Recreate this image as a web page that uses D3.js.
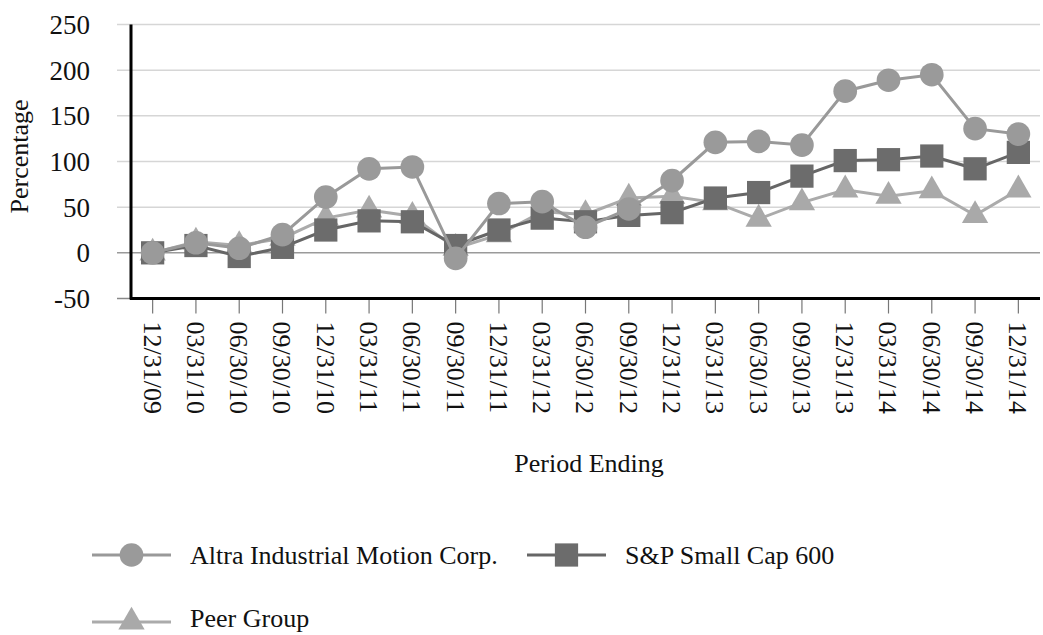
<!DOCTYPE html>
<html>
<head>
<meta charset="utf-8">
<script src="https://cdn.jsdelivr.net/npm/d3@7"></script>
<style>
  body { margin: 0; background: #fff; }
  text { font-family: "Liberation Serif", "Times New Roman", serif; fill: #111; }
</style>
</head>
<body>
<div id="chart"></div>
<script>
var periods = ["12/31/09", "03/31/10", "06/30/10", "09/30/10", "12/31/10", "03/31/11", "06/30/11",
    "09/30/11", "12/31/11", "03/31/12", "06/30/12", "09/30/12", "12/31/12", "03/31/13", "06/30/13",
    "09/30/13", "12/31/13", "03/31/14", "06/30/14", "09/30/14", "12/31/14"];

var altra = [0, 11, 5, 20, 61, 92, 94, -6, 54, 56, 28, 48, 79, 121, 122, 118, 177, 189, 195, 136, 130];
var sp600 = [0, 8, -4, 6, 25, 35, 34, 8, 25, 38, 34, 41, 44, 60, 66, 84, 101, 102, 106, 92, 110];
var peer = [0, 12, 8, 16, 38, 47, 40, 5, 20, 45, 42, 60, 62, 55, 37, 55, 69, 62, 68, 41, 69];

var yTicks = [-50, 0, 50, 100, 150, 200, 250];

var series = [
    { name: "Peer Group", values: peer, line: "#ababab", fill: "#a9a9a9", symbol: d3.symbolTriangle, size: 300 },
    { name: "S&P Small Cap 600", values: sp600, line: "#666666", fill: "#6c6c6c", symbol: d3.symbolSquare, size: 540 },
    { name: "Altra Industrial Motion Corp.", values: altra, line: "#999999", fill: "#9a9a9a", symbol: d3.symbolCircle, size: 440 }
];

var width = 1043, height = 635;
var plotLeft = 131, plotRight = 1040, plotTop = 24.5, plotBottom = 298.5;

var svg = d3.select("#chart").append("svg")
    .attr("width", width)
    .attr("height", height);

var x = d3.scalePoint()
    .domain(periods)
    .range([plotLeft, plotRight])
    .padding(0.5);

var y = d3.scaleLinear()
    .domain([-50, 250])
    .range([plotBottom, plotTop]);

// gridlines
svg.append("g").selectAll("line")
    .data(yTicks)
    .enter().append("line")
    .attr("x1", plotLeft - 14)
    .attr("x2", function(d) { return d == -50 ? plotLeft : plotRight; })
    .attr("y1", function(d) { return y(d); })
    .attr("y2", function(d) { return y(d); })
    .attr("stroke", function(d) { return d == 0 ? "#9a9a9a" : (d == -50 ? "#888" : "#d6d6d6"); })
    .attr("stroke-width", 1.5);

// y axis labels
svg.append("g").selectAll("text")
    .data(yTicks)
    .enter().append("text")
    .attr("x", 90)
    .attr("y", function(d) { return y(d); })
    .attr("dy", "0.35em")
    .attr("text-anchor", "end")
    .attr("font-size", 27)
    .text(function(d) { return d; });

// x ticks
svg.append("g").selectAll("line")
    .data(periods)
    .enter().append("line")
    .attr("x1", function(d) { return x(d); })
    .attr("x2", function(d) { return x(d); })
    .attr("y1", plotBottom)
    .attr("y2", plotBottom + 15)
    .attr("stroke", "#777")
    .attr("stroke-width", 1.2);

svg.append("g").selectAll("text")
    .data(periods)
    .enter().append("text")
    .attr("transform", function(d) { return "translate(" + x(d) + "," + (plotBottom + 23) + ") rotate(90)"; })
    .attr("dy", "0.35em")
    .attr("text-anchor", "start")
    .attr("font-size", 26)
    .text(function(d) { return d; });

// axes
svg.append("line")
    .attr("x1", plotLeft).attr("x2", plotLeft)
    .attr("y1", plotTop).attr("y2", plotBottom + 1)
    .attr("stroke", "#000").attr("stroke-width", 3);
svg.append("line")
    .attr("x1", plotLeft - 1).attr("x2", plotRight)
    .attr("y1", plotBottom).attr("y2", plotBottom)
    .attr("stroke", "#000").attr("stroke-width", 3);

// titles
svg.append("text")
    .attr("transform", "translate(28," + ((plotTop + plotBottom) / 2 - 5) + ") rotate(-90)")
    .attr("text-anchor", "middle")
    .attr("font-size", 26)
    .text("Percentage");

svg.append("text")
    .attr("x", 589)
    .attr("y", 472)
    .attr("text-anchor", "middle")
    .attr("font-size", 26)
    .text("Period Ending");

// series
var line = d3.line()
    .x(function(d, i) { return x(periods[i]); })
    .y(function(d) { return y(d); });

series.forEach(function(s) {
    var g = svg.append("g");
    g.append("path")
        .attr("d", line(s.values))
        .attr("fill", "none")
        .attr("stroke", s.line)
        .attr("stroke-width", 3);
    g.selectAll(".marker")
        .data(s.values)
        .enter().append("path")
        .attr("class", "marker")
        .attr("transform", function(d, i) { return "translate(" + x(periods[i]) + "," + y(d) + ")"; })
        .attr("d", d3.symbol().type(s.symbol).size(s.size))
        .attr("fill", s.fill);
});

// legend
var legendItems = [
    { s: series[2], x: 92, y: 555, ty: 0 },
    { s: series[1], x: 527, y: 555, ty: 0 },
    { s: series[0], x: 92, y: 622, ty: -4 }
];

var lg = svg.append("g").selectAll("g")
    .data(legendItems)
    .enter().append("g")
    .attr("transform", function(d) { return "translate(" + d.x + "," + d.y + ")"; });

lg.append("line")
    .attr("x1", 0).attr("x2", 79)
    .attr("stroke", function(d) { return d.s.line; })
    .attr("stroke-width", 3);

lg.append("path")
    .attr("transform", "translate(39.5,0)")
    .attr("d", function(d) { return d3.symbol().type(d.s.symbol).size(d.s.size)(); })
    .attr("fill", function(d) { return d.s.fill; });

lg.append("text")
    .attr("x", 98)
    .attr("y", function(d) { return d.ty; })
    .attr("dy", "0.35em")
    .attr("font-size", 26)
    .text(function(d) { return d.s.name; });
</script>
</body>
</html>
